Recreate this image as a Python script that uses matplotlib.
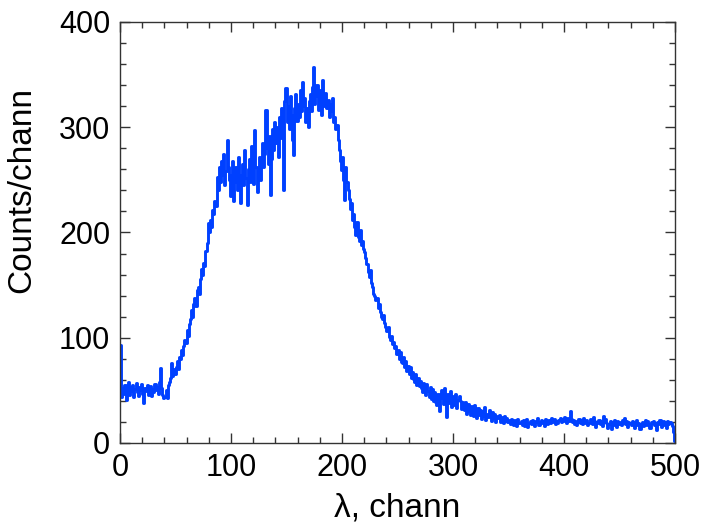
import numpy as np
import matplotlib
matplotlib.use("Agg")
import matplotlib.pyplot as plt
from matplotlib.ticker import MultipleLocator

# counts per channel, channels 0..499
counts = [
    93, 44, 52, 47, 55, 41, 50, 58, 46, 53,
    49, 55, 44, 51, 57, 48, 45, 53, 50, 56,
    47, 38, 52, 49, 55, 46, 50, 54, 45, 51,
    48, 56, 50, 53, 47, 58, 71, 52, 46, 43,
    44, 50, 43, 55, 58, 62, 76, 64, 70, 66,
    72, 78, 70, 82, 80, 88, 84, 92, 98, 95,
    107, 102, 113, 118, 126, 120, 132, 138, 130, 145,
    148, 142, 156, 165, 160, 171, 168, 182, 190, 209,
    200, 212, 205, 221, 218, 230, 225, 253, 240, 262,
    248, 268, 255, 275, 245, 258, 288, 262, 250, 235,
    255, 268, 230, 248, 262, 240, 272, 255, 228, 250,
    265, 245, 278, 252, 226, 260, 270, 248, 282, 258,
    246, 297, 262, 238, 255, 272, 250, 268, 285, 262,
    275, 316, 280, 265, 292, 236, 270, 298, 278, 305,
    285, 300, 272, 310, 290, 318, 295, 240, 325, 337,
    305, 320, 298, 330, 312, 288, 274, 318, 332, 306,
    322, 310, 335, 315, 343, 320, 328, 305, 318, 300,
    325, 332, 315, 338, 357, 322, 330, 340, 316, 335,
    325, 312, 345, 328, 320, 333, 318, 326, 310, 322,
    315, 328, 305, 310, 298, 302, 288, 278, 268, 259,
    272, 250, 231, 262, 248, 240, 232, 222, 228, 212,
    218, 205, 198, 210, 196, 192, 202, 188, 192, 184,
    181, 176, 170, 162, 158, 164, 152, 148, 142, 140,
    136, 138, 128, 132, 124, 120, 118, 122, 114, 110,
    106, 110, 101, 98, 102, 94, 96, 90, 92, 85,
    88, 80, 86, 77, 76, 82, 72, 78, 68, 73,
    66, 72, 62, 67, 61, 58, 66, 55, 62, 54,
    59, 52, 48, 57, 50, 46, 56, 49, 44, 53,
    42, 51, 40, 48, 39, 36, 47, 30, 44, 50,
    43, 37, 52, 41, 25, 47, 38, 49, 34, 45,
    42, 36, 47, 33, 41, 45, 40, 32, 39, 35,
    31, 39, 28, 37, 30, 27, 35, 30, 26, 36,
    29, 24, 33, 27, 31, 23, 30, 26, 34, 22,
    28, 25, 31, 26, 21, 29, 24, 28, 20, 26,
    24, 27, 20, 25, 22, 19, 26, 21, 24, 20,
    22, 18, 23, 20, 17, 22, 21, 16, 23, 19,
    19, 21, 17, 22, 16, 20, 23, 15, 19, 21,
    18, 22, 19, 16, 21, 20, 24, 17, 20, 22,
    19, 21, 16, 23, 20, 18, 22, 19, 24, 21,
    20, 23, 18, 21, 19, 22, 24, 20, 23, 21,
    25, 22, 19, 24, 21, 30, 23, 20, 22, 18,
    21, 17, 20, 23, 19, 22, 18, 24, 21, 19,
    22, 17, 19, 23, 20, 18, 25, 21, 15, 20,
    19, 22, 18, 21, 16, 26, 20, 23, 19, 14,
    18, 21, 13, 20, 17, 22, 19, 15, 21, 18,
    20, 17, 22, 19, 24, 18, 21, 15, 20, 19,
    17, 21, 18, 14, 20, 22, 17, 19, 13, 18,
    20, 16, 19, 22, 17, 21, 18, 14, 20, 19,
    21, 17, 19, 12, 20, 18, 22, 15, 19, 21,
    17, 20, 14, 21, 18, 20, 19, 16, 10, 2,
]

channels = np.arange(len(counts) + 1)
y = list(counts) + [counts[-1]]

plt.rcParams["font.family"] = ["Liberation Sans", "DejaVu Sans"]

fig = plt.figure(figsize=(7.08, 5.30), dpi=100)
ax = fig.add_axes([0.1695, 0.1642, 0.7839, 0.7943])

ax.step(channels, y, where="post", color="#0040ff", linewidth=2.1)

ax.set_xlim(0, 500)
ax.set_ylim(0, 400)
ax.xaxis.set_major_locator(MultipleLocator(100))
ax.xaxis.set_minor_locator(MultipleLocator(20))
ax.yaxis.set_major_locator(MultipleLocator(100))
ax.yaxis.set_minor_locator(MultipleLocator(20))
ax.tick_params(which="both", direction="in", top=True, right=True,
               labelsize=22, color="#333333", pad=7)
ax.tick_params(which="major", length=7, width=1)
ax.tick_params(which="minor", length=4, width=1)
for s in ax.spines.values():
    s.set_color("#333333")
    s.set_linewidth(1)

ax.set_xlabel("λ, chann", fontsize=24)
ax.set_ylabel("Counts/chann", fontsize=24)
ax.xaxis.set_label_coords(0.5, -0.117)
ax.yaxis.set_label_coords(-0.15, 0.60)

fig.savefig("out.png", dpi=100)
plt.close(fig)
